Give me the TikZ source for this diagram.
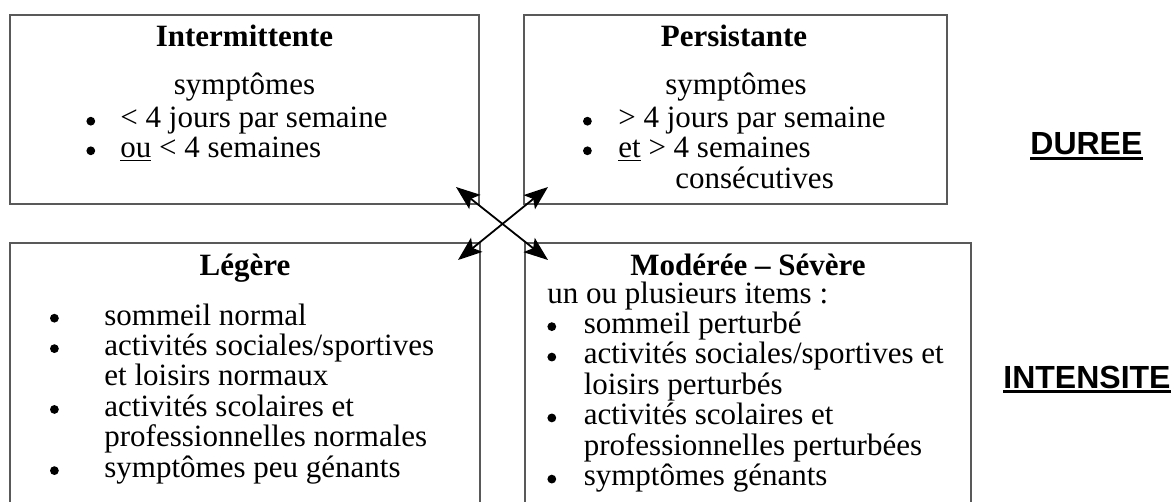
\documentclass[tikz,border=0pt]{standalone}
\usepackage{fontspec}
\setmainfont{Liberation Serif}
\newfontfamily\axisfont{Liberation Sans}
\usetikzlibrary{arrows.meta}

% Round bullet of the lists
\newcommand{\puce}{\tikz[baseline=0pt, x=1pt, y=1pt]\fill (2.2,3.4) circle (2.2);}

\begin{document}
\begin{tikzpicture}[x=0.5pt, y=-0.5pt, every node/.style={inner sep=0pt},
  box/.style={draw=boxborder, line width=1pt, rectangle},
  boxtitle/.style={anchor=base, font=\fontsize{15.5}{14.8}\selectfont\bfseries},
  boxtext/.style={anchor=base west, font=\fontsize{15.5}{14.8}\selectfont},
  axislabel/.style={anchor=base west, font=\axisfont\fontsize{16}{16}\selectfont\bfseries},
  axisline/.style={line width=1.5pt},
  link/.style={{Stealth[length=12pt,width=9pt,inset=2.5pt]}-{Stealth[length=12pt,width=9pt,inset=2.5pt]}, line width=0.9pt}]
  % Define colors
  \colorlet{boxborder}{black!65}

  % Canvas
  \useasboundingbox (0,0) rectangle (1171,502);

  % The four boxes
  \node[box, minimum width=234.5pt, minimum height=94.5pt] (inter) at (244.5,109.5) {};
  \node[box, minimum width=211.5pt, minimum height=94.5pt] (persist) at (735.5,109.5) {};
  \node[box, minimum width=235pt, minimum height=134.5pt] (legere) at (245,377.5) {};
  \node[box, minimum width=223pt, minimum height=134.5pt] (severe) at (748,377.5) {};

  % Intermittente
  \node[boxtitle] (intertitle) at (244.5,47) {Intermittente};
  \node[boxtext, anchor=base] (intersymp) at (244.5,95) {symptômes};
  \node[boxtext] (interlist) at (86,128) {\begin{tabular}[t]{@{}p{17pt}@{}l@{}}
    \puce & < 4 jours par semaine\\
    \puce & \underline{ou} < 4 semaines
  \end{tabular}};

  % Persistante
  \node[boxtitle] (persisttitle) at (734,47) {Persistante};
  \node[boxtext, anchor=base] (persistsymp) at (736,95) {symptômes};
  \node[boxtext] (persistlist) at (582.6,128) {\begin{tabular}[t]{@{}p{17.7pt}@{}l@{}}
    \puce & > 4 jours par semaine\\
    \puce & \underline{et} > 4 semaines\\
     & \hspace{28.5pt}consécutives
  \end{tabular}};

  % Legere
  \node[boxtitle] (legeretitle) at (245,275) {Légère};
  \node[boxtext] (legerelist) at (49.6,325) {\begin{tabular}[t]{@{}p{27.2pt}@{}l@{}}
    \puce & sommeil normal\\
    \puce & activités sociales/sportives\\
     & et loisirs normaux\\
    \puce & activités scolaires et\\
     & professionnelles normales\\
    \puce & symptômes peu génants
  \end{tabular}};

  % Moderee - Severe
  \node[boxtitle] (severetitle) at (748,275) {Modérée – Sévère};
  \node[boxtext] (severelist) at (547,303) {\begin{tabular}[t]{@{}p{18.2pt}@{}l@{}}
    \multicolumn{2}{@{}l@{}}{un ou plusieurs items :}\\
    \puce & sommeil perturbé\\
    \puce & activités sociales/sportives et\\
     & loisirs perturbés\\
    \puce & activités scolaires et\\
     & professionnelles perturbées\\
    \puce & symptômes génants
  \end{tabular}};

  % Axis labels
  \node[axislabel] (duree) at (1030,155) {DUREE};
  \node[axislabel] (intensite) at (1003,388) {INTENSITE};
  \draw[axisline] ([yshift=-1.8pt]duree.base west) -- ([yshift=-1.8pt]duree.base east);
  \draw[axisline] ([yshift=-1.8pt]intensite.base west) -- ([yshift=-1.8pt]intensite.base east);

  % Crossed arrows
  \coordinate (intertip) at (456,187);
  \coordinate (severetip) at (548,260);
  \coordinate (persisttip) at (548,187);
  \coordinate (legeretip) at (458,260);
  \draw[link] (intertip) -- (severetip);
  \draw[link] (persisttip) -- (legeretip);
\end{tikzpicture}
\end{document}
